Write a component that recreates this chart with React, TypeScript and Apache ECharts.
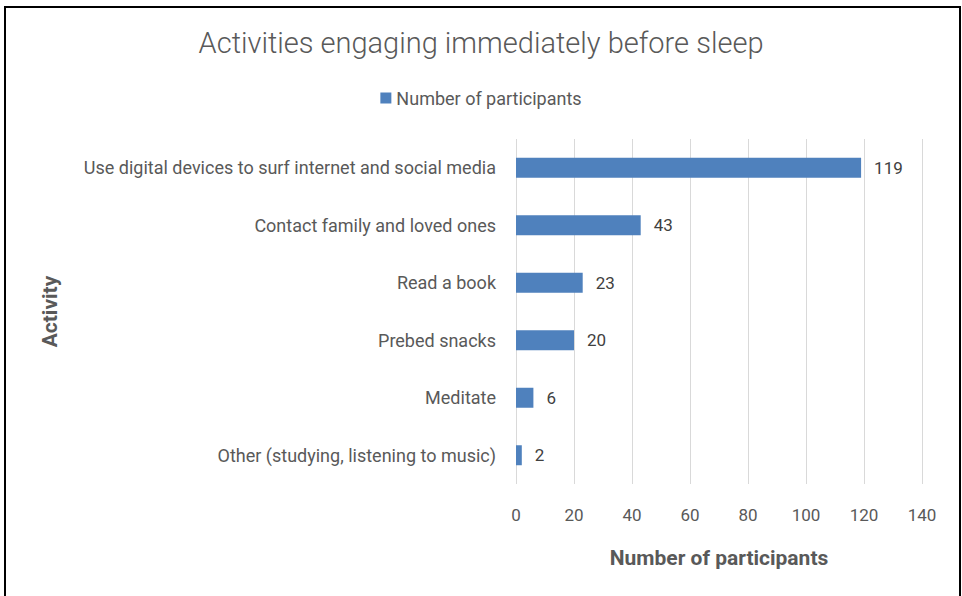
import React, { useEffect, useRef } from "react";
import * as echarts from "echarts";

const categories = [
  "Use digital devices to surf internet and social media",
  "Contact family and loved ones",
  "Read a book",
  "Prebed snacks",
  "Meditate",
  "Other (studying, listening to music)",
];
const participants = [119, 43, 23, 20, 6, 2];
const xMin = 0;
const xMax = 140;
const xInterval = 20;

const FONT = "'Roboto', sans-serif";
const GREY = "#595959";

export default function App() {
  const ref = useRef<HTMLDivElement>(null);
  useEffect(() => {
    if (!ref.current) return;
    const chart = echarts.init(ref.current, undefined, { renderer: "svg" });
    chart.setOption({
      animation: false,
      backgroundColor: "#ffffff",
      title: {
        text: "Activities engaging immediately before sleep",
        left: "center",
        top: 23,
        textStyle: { fontFamily: FONT, fontSize: 29, fontWeight: 300, color: GREY },
      },
      legend: {
        data: ["Number of participants"],
        top: 84,
        left: "center",
        itemWidth: 11,
        itemHeight: 11,
        icon: "rect",
        textStyle: { fontFamily: FONT, fontSize: 18, color: GREY },
      },
      grid: { left: 516, right: 40, top: 139, bottom: 112 },
      xAxis: {
        type: "value",
        min: xMin,
        max: xMax,
        interval: xInterval,
        name: "Number of participants",
        nameLocation: "middle",
        nameGap: 63,
        nameTextStyle: { fontFamily: FONT, fontSize: 21, fontWeight: "bold", color: GREY },
        axisLine: { show: false },
        axisTick: { show: false },
        axisLabel: { fontFamily: FONT, fontSize: 17, color: GREY, margin: 22 },
        splitLine: { show: true, lineStyle: { color: "#d9d9d9", width: 1 } },
      },
      yAxis: {
        type: "category",
        data: categories,
        inverse: true,
        name: "Activity",
        nameLocation: "middle",
        nameGap: 456,
        nameRotate: 90,
        nameTextStyle: { fontFamily: FONT, fontSize: 21, fontWeight: "bold", color: GREY },
        axisLine: { show: false },
        axisTick: { show: false },
        axisLabel: { fontFamily: FONT, fontSize: 18, color: GREY, margin: 20 },
      },
      series: [
        {
          name: "Number of participants",
          type: "bar",
          data: participants,
          barWidth: 20,
          itemStyle: { color: "#4f81bd" },
          label: {
            show: true,
            position: "right",
            distance: 13,
            fontFamily: FONT,
            fontSize: 17,
            color: "#404040",
          },
        },
      ],
      graphic: [
        {
          type: "rect",
          shape: { x: 5, y: 7, width: 955, height: 600 },
          style: { fill: "none", stroke: "#000000", lineWidth: 2 },
          silent: true,
        },
      ],
    });
    return () => chart.dispose();
  }, []);
  return (
    <div
      ref={ref}
      style={{ position: "fixed", left: 0, top: 0, width: 962, height: 596 }}
    />
  );
}
